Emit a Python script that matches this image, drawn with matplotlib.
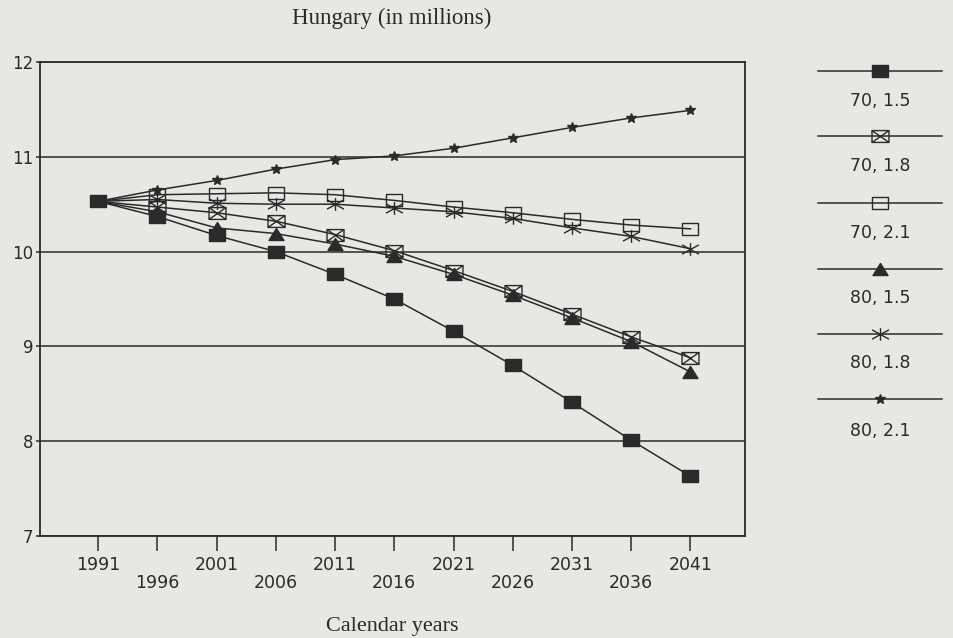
import matplotlib
matplotlib.use("Agg")
import matplotlib.pyplot as plt
from matplotlib.path import Path
from matplotlib.markers import MarkerStyle

# Projected population of Hungary (millions), six scenarios:
# life expectancy (70 / 80 years) and fertility (1.5 / 1.8 / 2.1)
years = [1991, 1996, 2001, 2006, 2011, 2016, 2021, 2026, 2031, 2036, 2041]
pop_70_15 = [10.53, 10.37, 10.17, 10.00, 9.76, 9.50, 9.16, 8.80, 8.41, 8.01, 7.63]
pop_70_18 = [10.53, 10.47, 10.41, 10.32, 10.18, 10.01, 9.80, 9.58, 9.34, 9.10, 8.88]
pop_70_21 = [10.53, 10.60, 10.61, 10.62, 10.60, 10.54, 10.47, 10.41, 10.34, 10.28, 10.24]
pop_80_15 = [10.53, 10.42, 10.25, 10.19, 10.08, 9.95, 9.76, 9.54, 9.30, 9.05, 8.73]
pop_80_18 = [10.53, 10.55, 10.51, 10.50, 10.50, 10.46, 10.42, 10.35, 10.25, 10.16, 10.03]
pop_80_21 = [10.53, 10.65, 10.75, 10.87, 10.97, 11.01, 11.09, 11.20, 11.31, 11.41, 11.49]
scenario_labels = ["70, 1.5", "70, 1.8", "70, 2.1", "80, 1.5", "80, 1.8", "80, 2.1"]
y_ticks = [7, 8, 9, 10, 11, 12]

INK = "#2a2a2a"
PAPER = "#e7e7e4"
TICK_FONT = "DejaVu Sans"
SERIF = "Liberation Serif"

# plotter-style marker shapes
M, L, C = Path.MOVETO, Path.LINETO, Path.CLOSEPOLY
rect = Path([(-1, -0.68), (1, -0.68), (1, 0.68), (-1, 0.68), (-1, -0.68)],
            [M, L, L, L, C])
envelope = Path([(-1, -0.7), (1, -0.7), (1, 0.7), (-1, 0.7), (-1, -0.7),
                 (-1, 0.7), (1, -0.7), (-1, -0.7), (1, 0.7)],
                [M, L, L, L, C, M, L, M, L])
triangle = Path([(0, 0.8), (-1, -0.8), (1, -0.8), (0, 0.8)], [M, L, L, C])
asterisk = Path([(0, -0.75), (0, 0.75), (-1, -0.55), (1, 0.55),
                 (-1, 0.55), (1, -0.55)], [M, L, M, L, M, L])

styles = [
    dict(marker=MarkerStyle(rect), ms=12.2, mfc=INK, mec=INK),
    dict(marker=MarkerStyle(envelope), ms=12.2, mfc="none", mec=INK),
    dict(marker=MarkerStyle(rect), ms=12.2, mfc="none", mec=INK),
    dict(marker=MarkerStyle(triangle), ms=10.8, mfc=INK, mec=INK),
    dict(marker=MarkerStyle(asterisk), ms=12.2, mfc="none", mec=INK),
    dict(marker="*", ms=7.5, mfc=INK, mec=INK),
]
series = [pop_70_15, pop_70_18, pop_70_21, pop_80_15, pop_80_18, pop_80_21]

fig = plt.figure(figsize=(9.54, 6.38), dpi=100)
fig.patch.set_facecolor(PAPER)

W, H = 954.0, 638.0
ax_left, ax_right, ax_top, ax_bottom = 40, 745, 62, 536
ax = fig.add_axes([ax_left / W, 1 - ax_bottom / H,
                   (ax_right - ax_left) / W, (ax_bottom - ax_top) / H])
ax.set_facecolor(PAPER)

# draw the filled-square scenario last so its start point sits on top
order = [5, 4, 2, 1, 3, 0]
for i in order:
    st = dict(styles[i])
    ax.plot(years, series[i], color=INK, lw=1.1, mew=1.0,
            markevery=(slice(None) if i == 0 else slice(1, None)),
            zorder=3 + (i == 0), **st)

ax.set_xlim(1986.1, 2045.6)
ax.set_ylim(7, 12)

ax.set_yticks(y_ticks)
ax.set_yticklabels([str(v) for v in y_ticks], family=TICK_FONT, fontsize=12,
                   color=INK)
ax.yaxis.grid(True, color=INK, lw=1.1)
ax.set_axisbelow(True)
ax.tick_params(axis="y", length=3, width=1.1, color=INK, pad=2)

ax.set_xticks(years)
ax.set_xticklabels([str(y) for y in years], family=TICK_FONT, fontsize=12.5,
                   color=INK)
ax.tick_params(axis="x", length=10.8, width=1.1, color=INK, direction="out")
for k, tick in enumerate(ax.xaxis.get_major_ticks()):
    tick.set_pad(3.5 if k % 2 == 0 else 16.5)

for sp in ax.spines.values():
    sp.set_color(INK)
    sp.set_linewidth(1.3)

fig.text(392 / W, 1 - 18 / H, "Hungary (in millions)", ha="center",
         va="center", family=SERIF, fontsize=16.5, color=INK)
fig.text(392 / W, 1 - 626 / H, "Calendar years", ha="center", va="center",
         family=SERIF, fontsize=16, color=INK)

# key: a line sample with its marker, the scenario label below it
key = fig.add_axes([0, 0, 1, 1], facecolor="none")
key.set_xlim(0, W)
key.set_ylim(H, 0)
key.axis("off")
row_line = [71, 136, 203, 269, 334, 399]
row_text = [101, 166, 233, 298, 363, 431]
for st, lab, yl, yt in zip(styles, scenario_labels, row_line, row_text):
    key.plot([818, 880, 942], [yl, yl, yl], color=INK, lw=1.1, mew=1.0,
             markevery=[1], **st)
    key.text(880, yt, lab, ha="center", va="center", family=TICK_FONT,
             fontsize=12.5, color=INK)

fig.savefig("out.png", dpi=100, facecolor=PAPER)
